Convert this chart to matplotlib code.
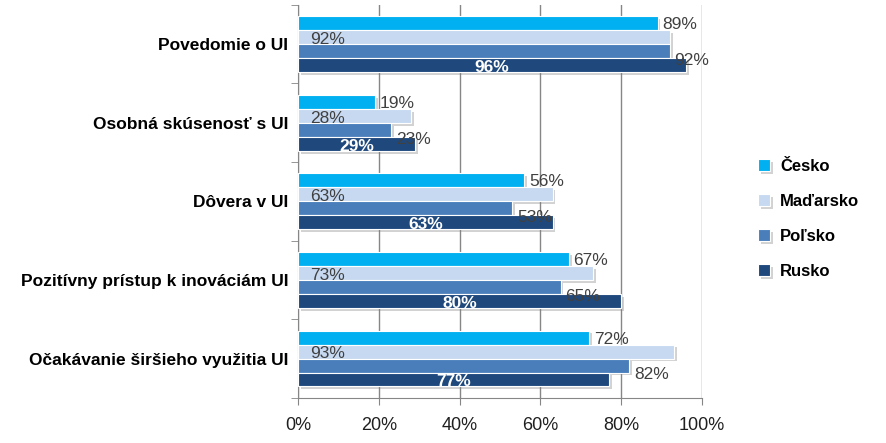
import matplotlib
matplotlib.use("Agg")
import matplotlib.pyplot as plt
import matplotlib.patheffects as pe
import numpy as np

# data
categories = ["Povedomie o UI", "Osobná skúsenosť s UI", "Dôvera v UI",
              "Pozitívny prístup k inováciám UI", "Očakávanie širšieho využitia UI"]
series = ["Česko", "Maďarsko", "Poľsko", "Rusko"]
cesko = [89, 19, 56, 67, 72]
madarsko = [92, 28, 63, 73, 93]
polsko = [92, 23, 53, 65, 82]
rusko = [96, 29, 63, 80, 77]
colors = ["#00B0F0", "#C6D9F1", "#4A7EBB", "#1F497D"]
values = [cesko, madarsko, polsko, rusko]

plt.rcParams['font.family'] = ['Liberation Sans', 'DejaVu Sans']

fig = plt.figure(figsize=(8.87, 4.43), dpi=100)
ax = fig.add_axes([0.336, 0.102, 0.4555, 0.887])

y = np.arange(len(categories))
h = 0.178
offsets = [-1.5, -0.5, 0.5, 1.5]
shadow = [pe.SimplePatchShadow(offset=(2, -2), alpha=0.35, shadow_rgbFace="#808080"), pe.Normal()]
fs = 12.5

for i, (name, vals, col) in enumerate(zip(series, values, colors)):
    pos = y + offsets[i] * h
    bars = ax.barh(pos, vals, height=h, color=col, edgecolor="white",
                   linewidth=0.8, label=name, zorder=3)
    for b in bars:
        b.set_path_effects(shadow)
    for p, v in zip(pos, vals):
        lab = f"{v}%"
        if i == 0:
            ax.text(v + 1.2, p + 0.02, lab, va="center", ha="left", fontsize=fs,
                    color="#404040", zorder=5)
        elif i == 1:
            ax.text(3, p + 0.03, lab, va="center", ha="left", fontsize=fs,
                    color="#404040", zorder=5)
        elif i == 2:
            ax.text(v + 1.2, p + 0.12, lab, va="center", ha="left", fontsize=fs,
                    color="#404040", zorder=5)
        else:
            ax.text(v / 2, p + 0.03, lab, va="center", ha="center", fontsize=fs,
                    color="white", fontweight="bold", zorder=5)

ax.set_xlim(0, 100)
ax.set_ylim(len(categories) - 0.5, -0.5)
ax.set_xticks(np.arange(0, 101, 20))
ax.set_xticklabels([f"{t}%" for t in range(0, 101, 20)], fontsize=13, color="#202020")
ax.set_yticks(y)
ax.set_yticklabels(categories, fontsize=12.5, fontweight="bold")
ax.set_yticks(np.arange(-0.5, len(categories)), minor=True)
ax.tick_params(axis="y", which="major", length=0, pad=7)
ax.tick_params(axis="y", which="minor", length=5, color="#868686", direction="out")
ax.tick_params(axis="x", length=5, color="#868686", direction="out", pad=9)

ax.grid(axis="x", color="#868686", linewidth=1, zorder=0)
for s in ["top", "right"]:
    ax.spines[s].set_visible(False)
for s in ["left", "bottom"]:
    ax.spines[s].set_color("#868686")

handles, labels = ax.get_legend_handles_labels()
leg = fig.legend(handles, labels, loc="center left", bbox_to_anchor=(0.838, 0.506),
                 frameon=False, prop={"size": 12, "weight": "bold"},
                 handlelength=0.7, handleheight=0.7, handletextpad=0.6, labelspacing=1.2)

fig.savefig("out.png", dpi=100)
